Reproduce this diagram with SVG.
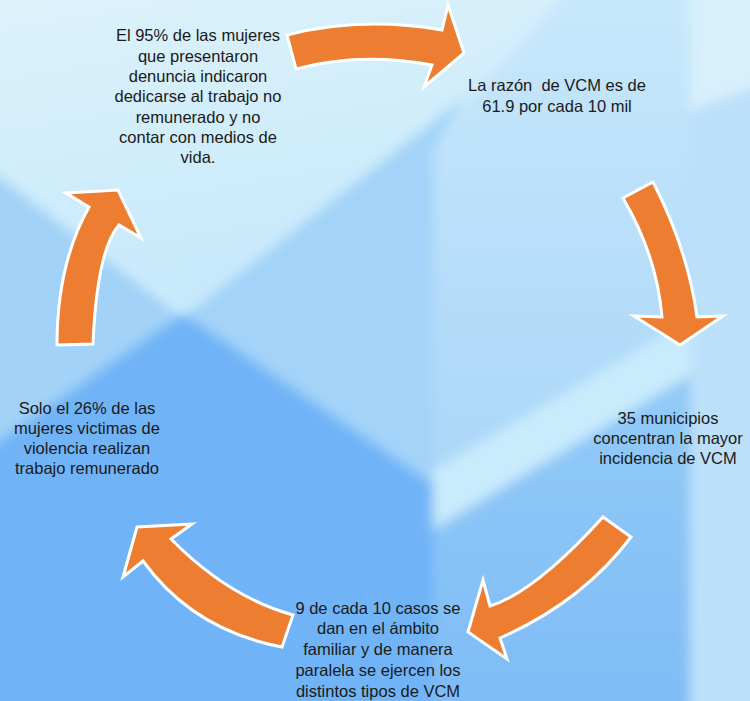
<svg xmlns="http://www.w3.org/2000/svg" width="750" height="701" viewBox="0 0 750 701">
<defs>
<linearGradient id="bg" x1="0" y1="0" x2="0" y2="1">
<stop offset="0" stop-color="#dcf2fc"/>
<stop offset="0.45" stop-color="#b2dbf9"/>
<stop offset="1" stop-color="#78b9f7"/>
</linearGradient>
<linearGradient id="topFace" x1="0" y1="0" x2="0.3" y2="1">
<stop offset="0" stop-color="#e0f4fc"/>
<stop offset="1" stop-color="#c6e8fa"/>
</linearGradient>
<linearGradient id="rightFace" x1="0" y1="0" x2="0" y2="1">
<stop offset="0" stop-color="#cbe9fb"/>
<stop offset="1" stop-color="#aad7f8"/>
</linearGradient>
<linearGradient id="lowRight" x1="0" y1="0" x2="0" y2="1">
<stop offset="0" stop-color="#93cbf7"/>
<stop offset="1" stop-color="#7cbaf6"/>
</linearGradient>
<filter id="soft" filterUnits="userSpaceOnUse" x="-60" y="-60" width="870" height="821">
<feGaussianBlur stdDeviation="6"/>
</filter>
<style>
.arrow{fill:#ED7D31;stroke:#ffffff;stroke-width:3;stroke-linejoin:miter}
.lbl{font-family:"Liberation Sans",Arial,sans-serif;font-size:16.5px;fill:#1a1a1a;text-anchor:middle}
</style>
</defs>
<g id="background" filter="url(#soft)">
<rect x="-50" y="-50" width="850" height="801" fill="url(#bg)"/>
<polygon points="-50,-50 600,-50 470,90 183,313 -50,135" fill="url(#topFace)"/>
<polygon points="-50,135 183,313 -50,475" fill="#a2d2f7"/>
<polygon points="183,313 470,90 433,150 433,484" fill="#a3d3f8"/>
<polygon points="-50,475 183,313 433,484 433,751 -50,751" fill="#6fb4f7"/>
<polygon points="433,150 600,-50 690,-50 690,330 433,470" fill="url(#rightFace)"/>
<polygon points="433,470 690,320 690,375 433,530" fill="#c9ebfc"/>
<polygon points="433,530 690,375 690,751 433,751" fill="url(#lowRight)"/>
<polygon points="690,-50 800,-50 800,751 690,751" fill="#bde0fa"/>
<polygon points="690,-50 800,-50 800,70 690,110" fill="#d8f0fc"/>
<line x1="-10" y1="165" x2="183" y2="313" stroke="#d2f0fc" stroke-width="8" opacity="0.8"/>
<line x1="183" y1="313" x2="470" y2="90" stroke="#d2f0fc" stroke-width="8" opacity="0.6"/>
</g>
<g id="connectors">
<path class="arrow" d="M287,35 Q360,16 442,30 L448,5 L464,53 L424,87 L432,65 Q360,52 296,69 Z"/>
<path class="arrow" d="M623,198 Q657,256 662,317 L634,316 L680,345 L723,316 L697,317 Q688,250 653,182 Z"/>
<path class="arrow" d="M603,517 Q535,592 490,606 L483,580 L468,632 L507,659 L500,638 Q582,602 631,537 Z"/>
<path class="arrow" d="M293,615 Q228,597 171,539 L192,524 L137,527 L123,577 L143,561 Q193,630 282,647 Z"/>
<path class="arrow" d="M57,345 Q57,264 89,207 L66,193 L118,190 L141,238 L119,225 Q97,250 93,344 Z"/>
</g>
<g id="node-top-left">
<text class="lbl" x="198" y="41">El 95% de las mujeres</text>
<text class="lbl" x="198" y="62">que presentaron</text>
<text class="lbl" x="198" y="82">denuncia indicaron</text>
<text class="lbl" x="198" y="102">dedicarse al trabajo no</text>
<text class="lbl" x="198" y="123">remunerado y no</text>
<text class="lbl" x="198" y="143">contar con medios de</text>
<text class="lbl" x="198" y="163">vida.</text>
</g>
<g id="node-top-right">
<text class="lbl" x="557" y="91" xml:space="preserve">La razón  de VCM es de</text>
<text class="lbl" x="557" y="112">61.9 por cada 10 mil</text>
</g>
<g id="node-right">
<text class="lbl" x="668" y="424">35 municipios</text>
<text class="lbl" x="668" y="444">concentran la mayor</text>
<text class="lbl" x="668" y="464">incidencia de VCM</text>
</g>
<g id="node-bottom">
<text class="lbl" x="378" y="614">9 de cada 10 casos se</text>
<text class="lbl" x="378" y="634">dan en el ámbito</text>
<text class="lbl" x="378" y="655">familiar y de manera</text>
<text class="lbl" x="378" y="676">paralela se ejercen los</text>
<text class="lbl" x="378" y="697">distintos tipos de VCM</text>
</g>
<g id="node-left">
<text class="lbl" x="87" y="414">Solo el 26% de las</text>
<text class="lbl" x="87" y="434">mujeres victimas de</text>
<text class="lbl" x="87" y="454">violencia realizan</text>
<text class="lbl" x="87" y="474">trabajo remunerado</text>
</g>
</svg>
